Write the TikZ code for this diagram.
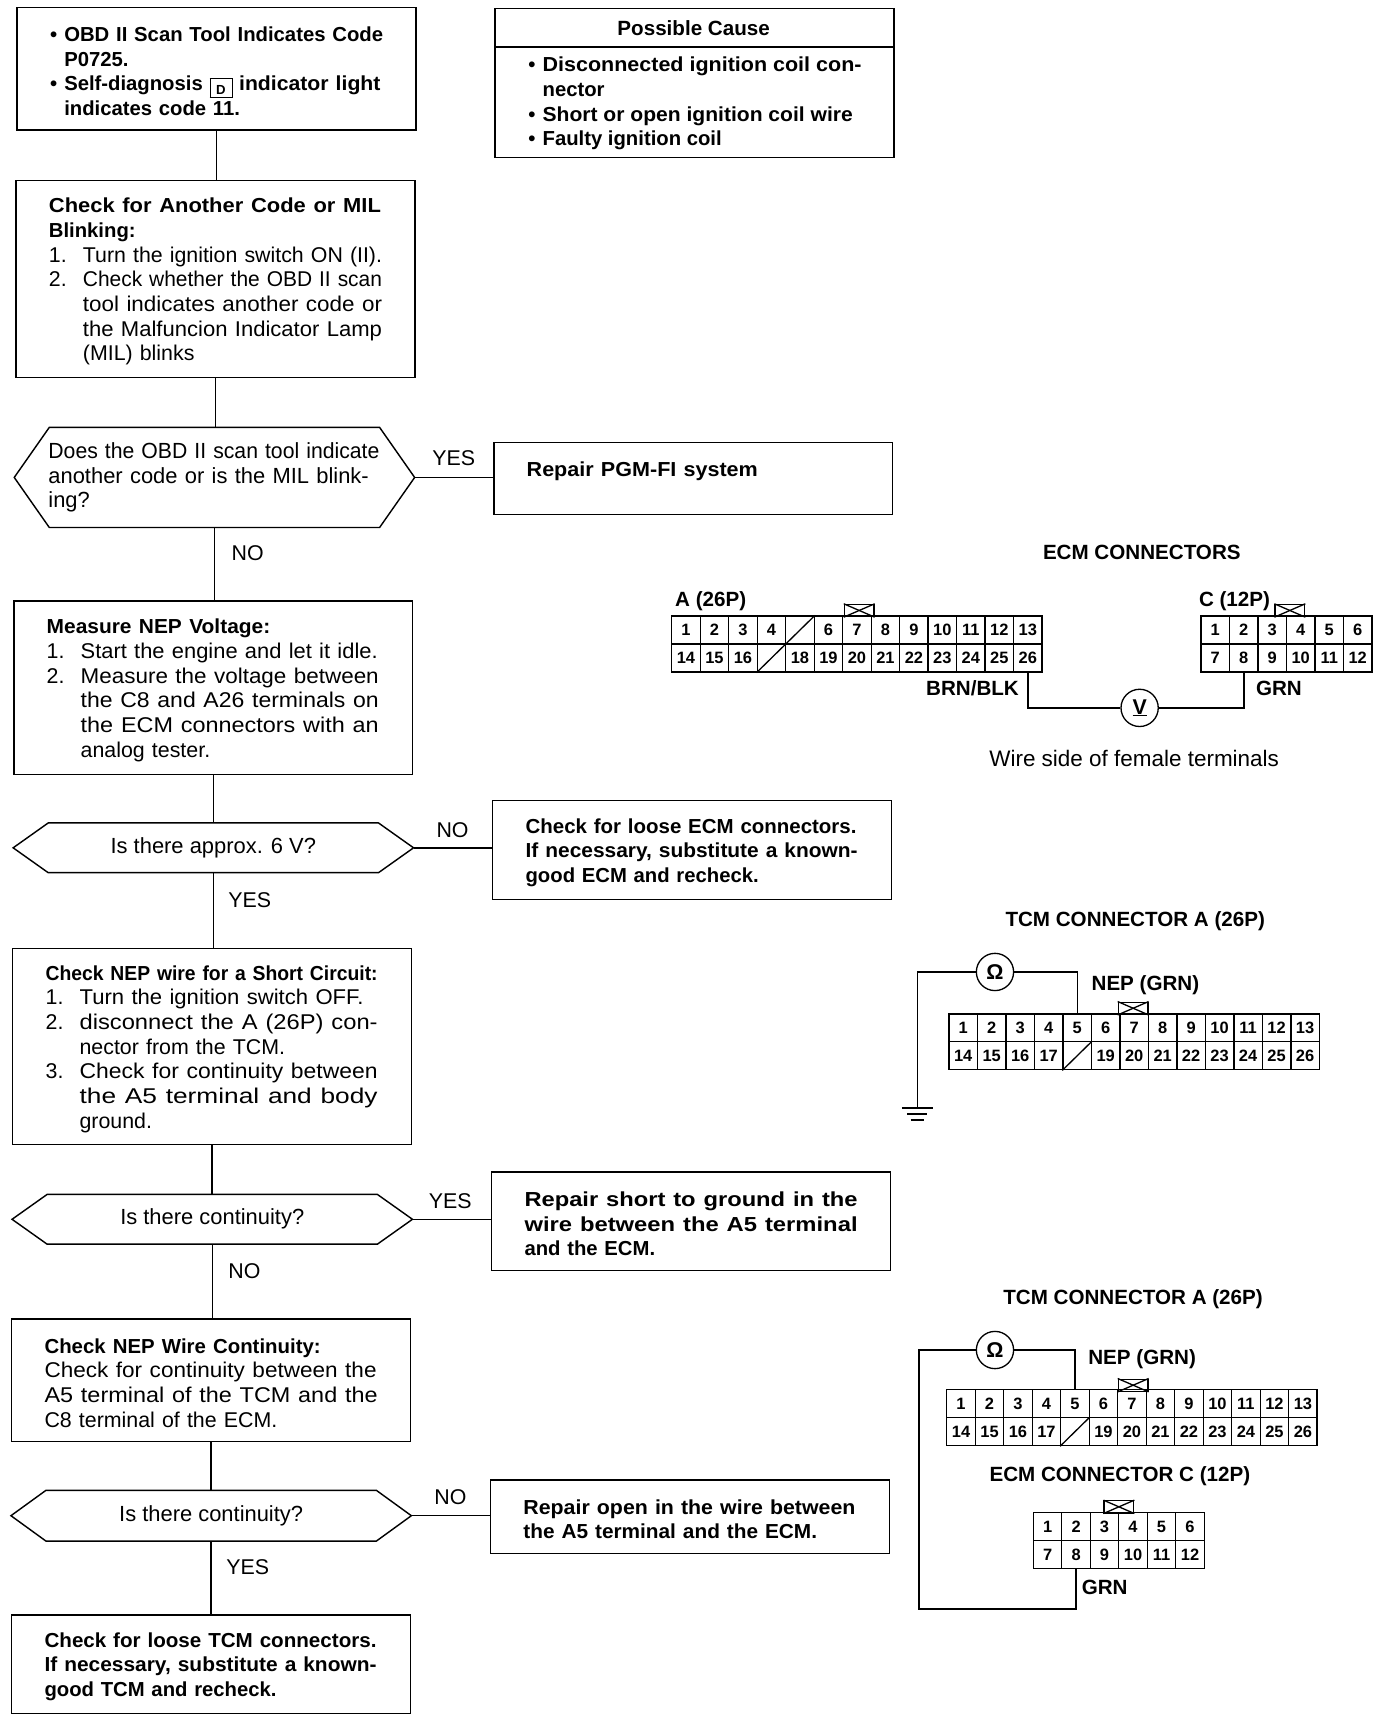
\documentclass[tikz,border=0pt]{standalone}
\usepackage{fontspec}
\setmainfont{Liberation Sans}
\newcommand{\lineFont}{\fontsize{19.5}{22.5}\selectfont}
\newcommand{\boldFont}{\fontsize{18.5}{22.5}\selectfont\bfseries}
\newcommand{\spreadLine}[2]{\resizebox{#1pt}{\height}{#2}}
\newcommand{\bulletItem}{\makebox[13pt][l]{•}}
\newcommand{\stepNo}[1]{\makebox[31pt][l]{#1}}
\newcommand{\dBox}{{\setlength{\fboxsep}{3pt}\raisebox{-3pt}{\fbox{\rule{0pt}{11pt}\makebox[14pt]{\fontsize{12}{12}\selectfont D}}}}}
\newcommand{\pinBlock}[5]{
        \foreach \pinNo [count=\colNo] in {#4}
                \node[pincell] (#1-1-\colNo) at ({#2+26*\colNo-13},{#3+13}) {\pinNo};
        \foreach \pinNo [count=\colNo] in {#5}
                \node[pincell] (#1-2-\colNo) at ({#2+26*\colNo-13},{#3+38.5}) {\pinNo};
}
\newcommand{\pinTab}[3]{
        \node[pintab] (#1) at (#2,#3) {};
        \draw [wireline] (#1.north west) -- (#1.south east);
        \draw [wireline] (#1.north east) -- (#1.south west);
}
\tikzset{
        flowbox/.style={draw, line width=1.3pt, anchor=north west, align=left, inner xsep=30pt, inner ysep=0pt, text width=304pt, font=\lineFont, execute at begin node={\rule{0pt}{18pt}}},
        hexbox/.style={anchor=north west, minimum width=365pt, inner sep=0pt, font=\fontsize{20}{22.5}\selectfont},
        flowline/.style={line width=1.3pt},
        answer/.style={font=\lineFont},
        heading/.style={inner sep=0pt, font=\fontsize{18.8}{22.5}\selectfont\bfseries},
        pincell/.style={draw, line width=1.2pt, minimum width=26pt, minimum height=25.5pt, inner sep=0pt, font=\fontsize{15}{15}\selectfont\bfseries},
        pintab/.style={draw, line width=1.2pt, anchor=north west, minimum width=27pt, minimum height=11pt, inner sep=0pt},
        wireline/.style={line width=1.2pt},
        heavywire/.style={line width=1.9pt},
        meter/.style={draw, circle, line width=1.2pt, minimum size=34pt, inner sep=0pt, fill=white, font=\lineFont\bfseries}
}
\begin{document}
\begin{tikzpicture}[x=1pt,y=-1pt]
        \useasboundingbox (0,0) rectangle (1270,1566);

        \node[flowbox, font=\boldFont, minimum height=112pt] (scanTool) at (15,6) {\bulletItem\spreadLine{291}{OBD II Scan Tool Indicates Code}\\ \hspace*{13pt}P0725.\\ \bulletItem Self-diagnosis \dBox{} \spreadLine{129}{indicator light}\\ \hspace*{13pt}indicates code 11.};
        \node[flowbox, minimum height=180pt] (checkCode) at (14,164) {\spreadLine{303}{\boldFont Check for Another Code or MIL}\\ {\boldFont Blinking:}\\ \stepNo{1.}\spreadLine{273}{Turn the ignition switch ON (II).}\\ \stepNo{2.}\spreadLine{273}{Check whether the OBD II scan}\\ \hspace*{31pt}\spreadLine{273}{tool indicates another code or}\\ \hspace*{31pt}\spreadLine{273}{the Malfuncion Indicator Lamp}\\ \hspace*{31pt}(MIL) blinks};
        \node[hexbox, align=left, inner xsep=31pt, text width=303pt, minimum height=91pt] (askCode) at (13,390) {\spreadLine{302}{Does the OBD II scan tool indicate}\\ another code or is the MIL blink-\\ ing?};
        \node[flowbox, minimum height=158pt] (measureNep) at (12,548) {\spreadLine{204}{\boldFont Measure NEP Voltage:}\\ \stepNo{1.}\spreadLine{271}{Start the engine and let it idle.}\\ \stepNo{2.}\spreadLine{272}{Measure the voltage between}\\ \hspace*{31pt}\spreadLine{272}{the C8 and A26 terminals on}\\ \hspace*{31pt}\spreadLine{272}{the ECM connectors with an}\\ \hspace*{31pt}analog tester.};
        \node[hexbox, minimum height=45pt] (askVolt) at (12,751) {Is there approx. 6 V?};
        \node[flowbox, minimum height=179pt] (shortCheck) at (11,865) {\spreadLine{303}{\boldFont Check NEP wire for a Short Circuit:}\\ \stepNo{1.}\spreadLine{259}{Turn the ignition switch OFF.}\\ \stepNo{2.}\spreadLine{272}{disconnect the A (26P) con-}\\ \hspace*{31pt}nector from the TCM.\\ \stepNo{3.}\spreadLine{272}{Check for continuity between}\\ \hspace*{31pt}\spreadLine{272}{the A5 terminal and body}\\ \hspace*{31pt}ground.};
        \node[hexbox, minimum height=45pt] (askShort) at (11,1090) {Is there continuity?};
        \node[flowbox, minimum height=112pt] (wireCheck) at (10,1203) {\spreadLine{252}{\boldFont Check NEP Wire Continuity:}\\ \spreadLine{303}{Check for continuity between the}\\ \spreadLine{304}{A5 terminal of the TCM and the}\\ C8 terminal of the ECM.};
        \node[hexbox, minimum height=46pt] (askOpen) at (10,1360) {Is there continuity?};
        \node[flowbox, font=\boldFont, minimum height=90pt] (looseTcm) at (10,1473) {\spreadLine{303}{Check for loose TCM connectors.}\\ \spreadLine{303}{If necessary, substitute a known-}\\ good TCM and recheck.};

        \node[flowbox, minimum height=136pt, text width=364pt, inner xsep=0pt] (causeBox) at (451,7) {};
        \node[heading] (causeTitle) at (633,26) {Possible Cause};
        \draw [flowline] (causeBox.west |- 0,43) -- (causeBox.east |- 0,43);
        \node[anchor=north west, align=left, inner sep=0pt, font=\boldFont] (causeList) at (482,52) {\bulletItem\spreadLine{291}{Disconnected ignition coil con-}\\ \hspace*{13pt}nector\\ \bulletItem\spreadLine{283}{Short or open ignition coil wire}\\ \bulletItem Faulty ignition coil};

        \node[flowbox, font=\boldFont, minimum height=66pt] (repairFi) at (450,403) {\spreadLine{211}{Repair PGM-FI system}\\ \mbox{}};
        \node[flowbox, font=\boldFont, minimum height=90pt] (looseEcm) at (449,730) {\spreadLine{302}{Check for loose ECM connectors.}\\ \spreadLine{303}{If necessary, substitute a known-}\\ good ECM and recheck.};
        \node[flowbox, font=\boldFont, minimum height=90pt] (repairShort) at (448,1069) {\spreadLine{304}{Repair short to ground in the}\\ \spreadLine{304}{wire between the A5 terminal}\\ and the ECM.};
        \node[flowbox, font=\boldFont, minimum height=67pt] (repairOpen) at (447,1350) {\spreadLine{303}{Repair open in the wire between}\\ \spreadLine{268}{the A5 terminal and the ECM.}};

        \foreach \hexName in {askCode, askVolt, askShort, askOpen}
                \draw [flowline] (\hexName.west) -- ([xshift=32pt]\hexName.north west) -- ([xshift=-32pt]\hexName.north east) -- (\hexName.east) -- ([xshift=-32pt]\hexName.south east) -- ([xshift=32pt]\hexName.south west) -- cycle;
        \foreach \upper/\lower in {scanTool/checkCode, checkCode/askCode, askCode/measureNep, measureNep/askVolt, askVolt/shortCheck, shortCheck/askShort, askShort/wireCheck, wireCheck/askOpen, askOpen/looseTcm}
                \draw [flowline] (\upper.south) -- (\upper.south |- \lower.north);
        \foreach \hexName/\boxName in {askCode/repairFi, askVolt/looseEcm, askShort/repairShort, askOpen/repairOpen}
                \draw [flowline] (\hexName.east) -- (\hexName.east -| \boxName.west);

        \node[answer] (yesFi) at (414,418) {YES};
        \node[answer] (noFi) at (226,505) {NO};
        \node[answer] (noVolt) at (413,758) {NO};
        \node[answer] (yesVolt) at (228,821) {YES};
        \node[answer] (yesShort) at (411,1096) {YES};
        \node[answer] (noShort) at (223,1160) {NO};
        \node[answer] (noOpen) at (411,1366) {NO};
        \node[answer] (yesOpen) at (226,1430) {YES};

        \node[heading] (ecmTitle) at (1042,504) {ECM CONNECTORS};
        \node[heading, anchor=west] (ecmALabel) at (616,549) {A (26P)};
        \node[heading, anchor=west] (ecmCLabel) at (1094,549) {C (12P)};
        \pinBlock{ecmA}{613}{562}{1,2,3,4,{},6,7,8,9,10,11,12,13}{14,15,16,{},18,19,20,21,22,23,24,25,26}
        \pinBlock{ecmC}{1096}{562}{1,2,3,4,5,6}{7,8,9,10,11,12}
        \pinTab{ecmATab}{770}{551}
        \pinTab{ecmCTab}{1163}{551}
        \draw [wireline] (ecmA-2-4.south west) -- (ecmA-1-5.north east);
        \node[meter] (voltMeter) at (1040,646) {\underline{V}};
        \draw [heavywire] (ecmA-2-13.south) |- (voltMeter.west);
        \draw [heavywire] (voltMeter.east) -| (ecmC-2-2.south);
        \node[heading, anchor=east] (brnLabel) at (930,628) {BRN/BLK};
        \node[heading, anchor=west] (grnLabel) at (1146,628) {GRN};
        \node[font=\fontsize{20.5}{22.5}\selectfont] (wireSide) at (1035,692) {Wire side of female terminals};

        \node[heading] (tcmTitleOne) at (1036,841) {TCM CONNECTOR A (26P)};
        \pinBlock{tcmOne}{866}{925}{1,2,3,4,5,6,7,8,9,10,11,12,13}{14,15,16,17,{},19,20,21,22,23,24,25,26}
        \pinTab{tcmOneTab}{1020}{914}
        \draw [wireline] (tcmOne-2-5.south west) -- (tcmOne-2-5.north east);
        \node[meter] (ohmOne) at (908,887) {Ω};
        \coordinate (groundOne) at (837,1011);
        \draw [wireline] (ohmOne.west) -| (groundOne);
        \draw [wireline] (ohmOne.east) -| (tcmOne-1-5.north);
        \draw [heavywire] (groundOne)++(-14,0) -- ++(28,0);
        \draw [heavywire] (groundOne)++(-9,6) -- ++(18,0);
        \draw [heavywire] (groundOne)++(-6,11) -- ++(12,0);
        \node[heading, anchor=west] (nepOne) at (996,899) {NEP (GRN)};

        \node[heading] (tcmTitleTwo) at (1034,1186) {TCM CONNECTOR A (26P)};
        \pinBlock{tcmTwo}{864}{1268}{1,2,3,4,5,6,7,8,9,10,11,12,13}{14,15,16,17,{},19,20,21,22,23,24,25,26}
        \pinTab{tcmTwoTab}{1020}{1258}
        \draw [wireline] (tcmTwo-2-5.south west) -- (tcmTwo-2-5.north east);
        \node[heading] (ecmTitleTwo) at (1022,1347) {ECM CONNECTOR C (12P)};
        \pinBlock{ecmTwo}{943}{1380}{1,2,3,4,5,6}{7,8,9,10,11,12}
        \pinTab{ecmTwoTab}{1007}{1369}
        \node[meter] (ohmTwo) at (908,1232) {Ω};
        \coordinate (cornerTwo) at (839,1468);
        \draw [heavywire] (ohmTwo.west) -| (cornerTwo) -| (ecmTwo-2-2.south);
        \draw [heavywire] (ohmTwo.east) -| (tcmTwo-1-5.north);
        \node[heading, anchor=west] (nepTwo) at (993,1240) {NEP (GRN)};
        \node[heading, anchor=west] (grnTwo) at (987,1449) {GRN};
    \end{tikzpicture}
\end{document}
